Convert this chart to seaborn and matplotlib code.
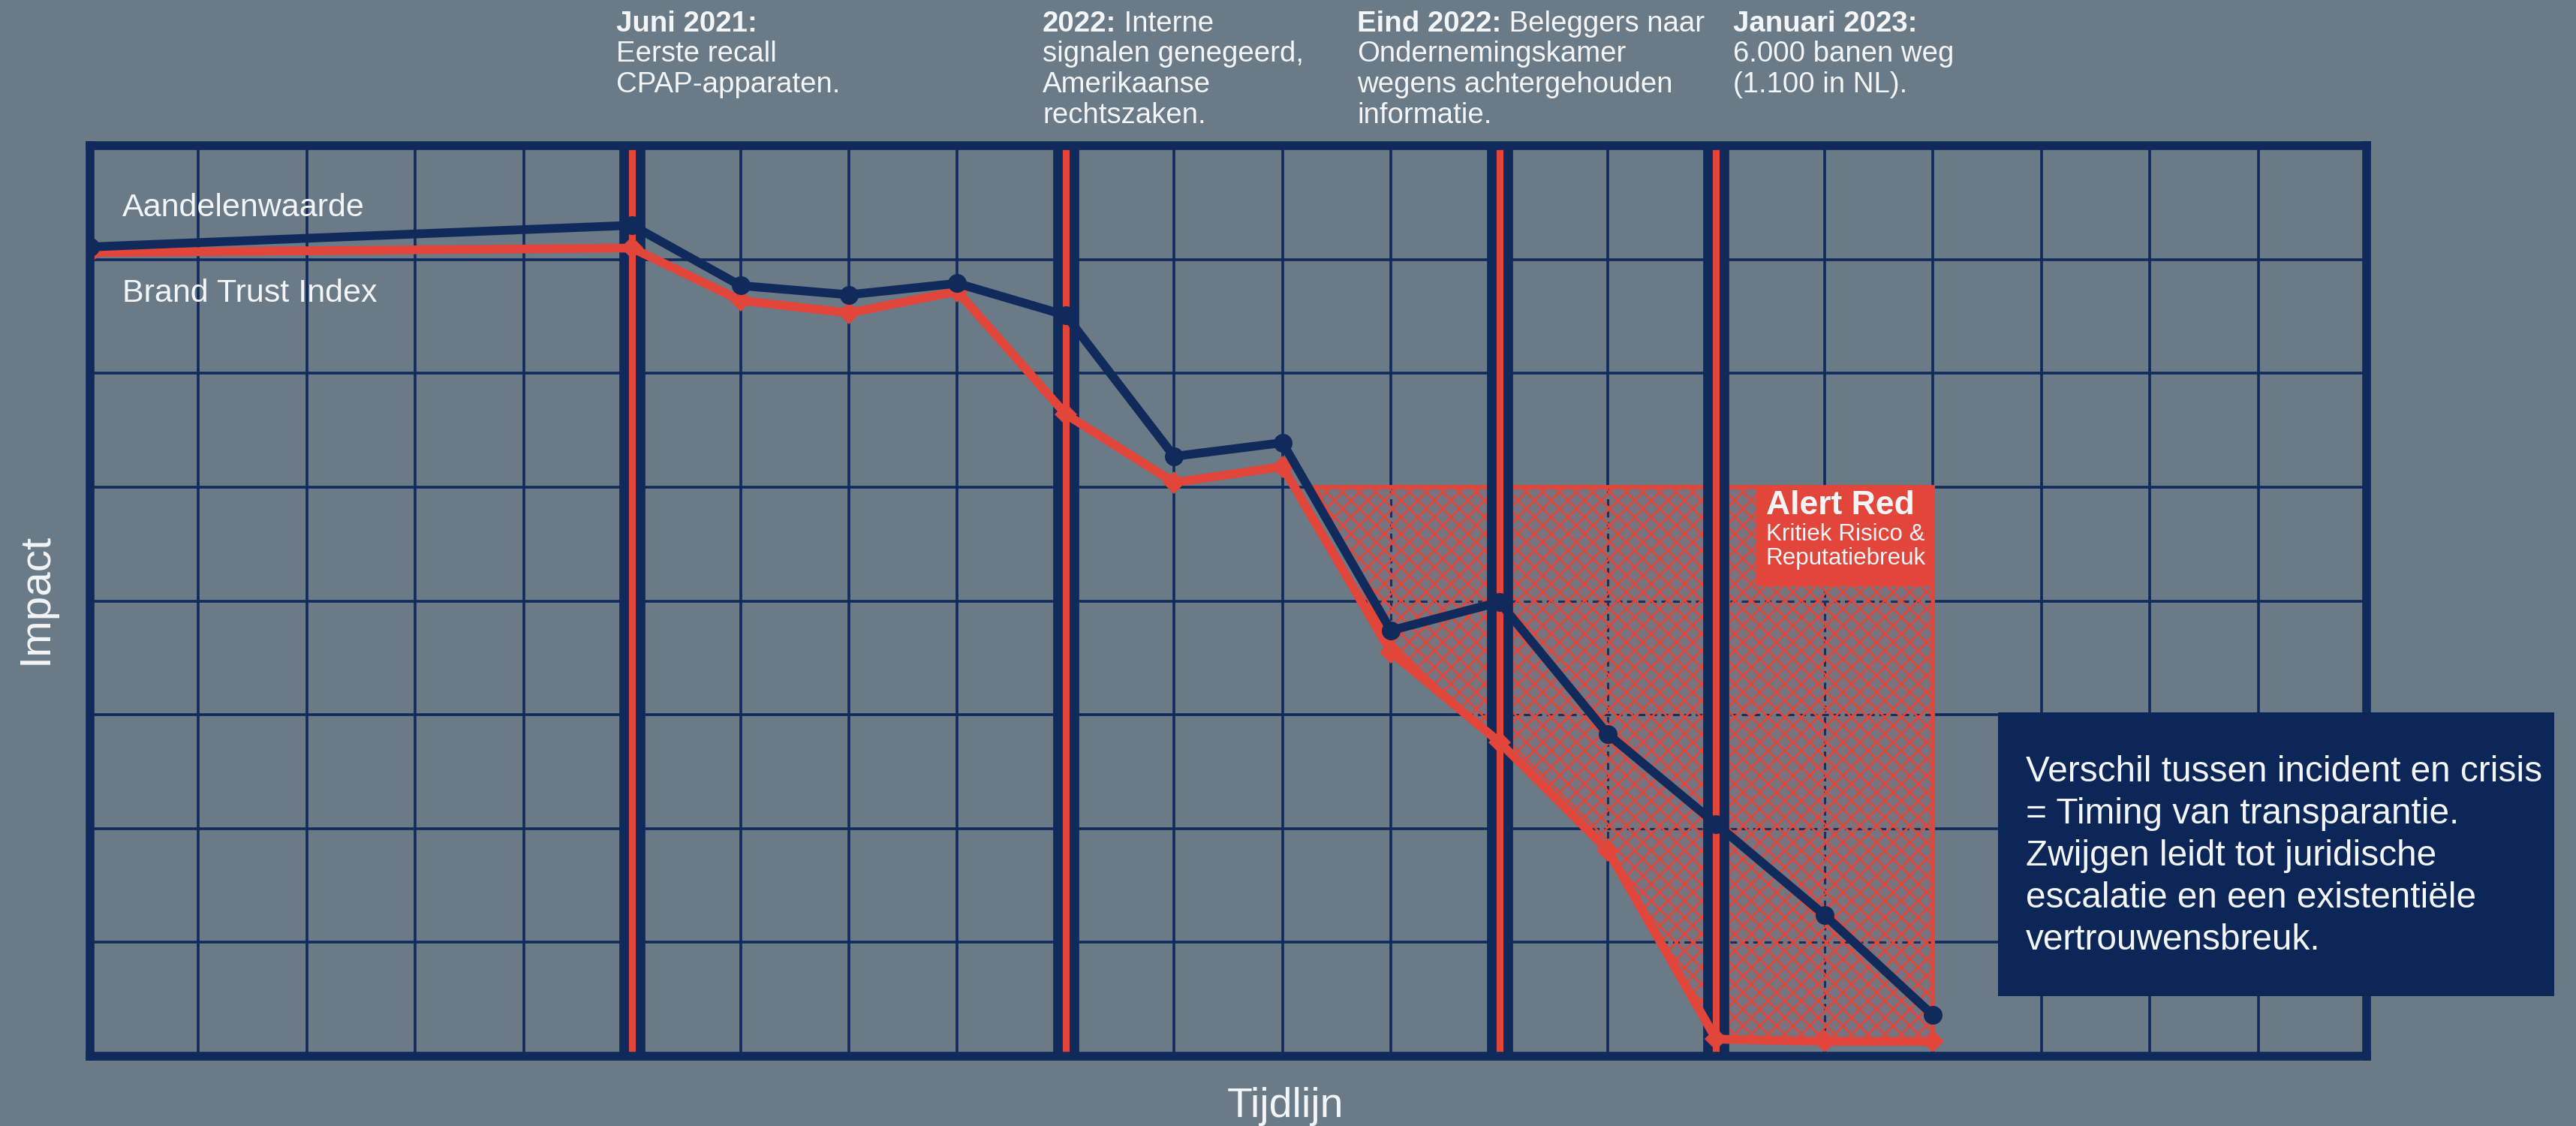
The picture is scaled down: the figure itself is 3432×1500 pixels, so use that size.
import matplotlib
matplotlib.use("Agg")
import matplotlib.pyplot as plt
import seaborn as sns
import pandas as pd
from matplotlib.patches import Rectangle, Polygon

# ---------------- data ----------------
x_pos = [0, 5, 6, 7, 8, 9, 10, 11, 12, 13, 14, 15, 16, 17]
aandelenwaarde = [7.11, 7.30, 6.77, 6.69, 6.79, 6.51, 5.27, 5.39, 3.74, 3.99, 2.83, 2.04, 1.24, 0.36]
brand_trust = [7.06, 7.10, 6.64, 6.53, 6.72, 5.64, 5.04, 5.18, 3.55, 2.76, 1.81, 0.15, 0.13, 0.13]

event_x = [5, 9, 13, 15]
event_bold = ["Juni 2021:", "2022:", "Eind 2022:", "Januari 2023:"]
event_rest = ["", " Interne", " Beleggers naar", ""]
event_body = [
    ["Eerste recall", "CPAP-apparaten."],
    ["signalen genegeerd,", "Amerikaanse", "rechtszaken."],
    ["Ondernemingskamer", "wegens achtergehouden", "informatie."],
    ["6.000 banen weg", "(1.100 in NL)."],
]

zone_x = [11.3, 12, 13, 14, 15, 16, 17]
zone_low = [5.0, 3.6, 2.76, 1.81, 0.15, 0.13, 0.13]
zone_top = 5.0

alert_title = "Alert Red"
alert_sub = ["Kritiek Risico &", "Reputatiebreuk"]
callout_lines = [
    "Verschil tussen incident en crisis",
    "= Timing van transparantie.",
    "Zwijgen leidt tot juridische",
    "escalatie en een existentiële",
    "vertrouwensbreuk.",
]

# ---------------- style ----------------
BG = "#6b7a87"
NAVY = "#112a5c"
RED = "#e2463b"
BOXNAVY = "#0c2657"
WHITE = "#f3f5f7"

sns.set_theme(style="white")
plt.rcParams["font.family"] = ["Liberation Sans", "DejaVu Sans"]
plt.rcParams["hatch.linewidth"] = 1.0

W, H = 3432, 1500
DPI = 200
fig = plt.figure(figsize=(W / DPI, H / DPI), dpi=DPI, facecolor=BG)
ax = fig.add_axes([120 / W, (H - 1407) / H, (3153 - 120) / W, (1407 - 194) / H])
ax.set_facecolor(BG)
ax.set_xlim(0, 21)
ax.set_ylim(0, 8)
ax.set_xticks(range(0, 22))
ax.set_yticks(range(0, 9))
ax.tick_params(length=0, labelbottom=False, labelleft=False)
ax.set_axisbelow(True)
ax.grid(True, color=NAVY, lw=1.3)
for s in ax.spines.values():
    s.set_visible(True)
    s.set_color(NAVY)
    s.set_linewidth(4.2)
    s.set_zorder(6)

# ---------------- alert zone ----------------
verts = [(zone_x[0], zone_top), (zone_x[-1], zone_top)] + list(zip(zone_x[::-1], zone_low[::-1]))
cover = Polygon(verts, closed=True, facecolor=BG, edgecolor="none", zorder=1.0)
ax.add_patch(cover)
for gx in range(12, 17):
    ln, = ax.plot([gx, gx], [0, 8], ls=(0, (3, 2)), color=NAVY, lw=1.1, zorder=1.1)
    ln.set_clip_path(cover)
for gy in range(1, 5):
    ln, = ax.plot([0, 21], [gy, gy], ls=(0, (3, 2)), color=NAVY, lw=1.1, zorder=1.1)
    ln.set_clip_path(cover)
hatch = Polygon(verts, closed=True, facecolor=(0.89, 0.27, 0.23, 0.10), edgecolor=RED,
                hatch="xxx", lw=2.0, zorder=1.5)
ax.add_patch(hatch)

# ---------------- event lines ----------------
for ex in event_x:
    ax.axvline(ex, color=NAVY, lw=12.5, zorder=3)
    ax.axvline(ex, color=RED, lw=3.3, zorder=3.1)

# alert label box
ax.add_patch(Rectangle((15.37, 4.13), 17 - 15.37, 5.01 - 4.13, facecolor=RED,
                       edgecolor="none", zorder=3.5))
ax.text(15.46, 4.76, alert_title, color=WHITE, fontsize=16, fontweight="bold",
        va="baseline", ha="left", zorder=4)
ax.text(15.46, 4.53, alert_sub[0], color=WHITE, fontsize=11.3, va="baseline", ha="left", zorder=4)
ax.text(15.46, 4.32, alert_sub[1], color=WHITE, fontsize=11.3, va="baseline", ha="left", zorder=4)

# ---------------- series ----------------
df = pd.DataFrame({"x": x_pos, "Aandelenwaarde": aandelenwaarde, "Brand Trust Index": brand_trust})
sns.lineplot(data=df, x="x", y="Brand Trust Index", ax=ax, color=RED, lw=4.2,
             marker="D", markersize=7.5, markeredgewidth=0, zorder=5, sort=False)
sns.lineplot(data=df, x="x", y="Aandelenwaarde", ax=ax, color=NAVY, lw=4.2,
             marker="o", markersize=9, markeredgewidth=0, zorder=5.2, sort=False)
ax.set_xlabel("")
ax.set_ylabel("")

ax.text(0.3, 7.38, "Aandelenwaarde", color=WHITE, fontsize=15.5, va="baseline", zorder=6)
ax.text(0.3, 6.63, "Brand Trust Index", color=WHITE, fontsize=15.5, va="baseline", zorder=6)

# ---------------- axis titles ----------------
fig.text(48 / W, 1 - 797 / H, "Impact", rotation=90, color=WHITE, fontsize=21,
         ha="center", va="center")
fig.text(1712 / W, 1 - 1488 / H, "Tijdlijn", color=WHITE, fontsize=20,
         ha="center", va="baseline")

# ---------------- event headers ----------------
renderer = fig.canvas.get_renderer()
header_x_px = [821, 1389, 1808, 2309]
base0, step = 42, 40.5
for hx, b, r, body in zip(header_x_px, event_bold, event_rest, event_body):
    xf = hx / W
    y0 = 1 - base0 / H
    t = fig.text(xf, y0, b, color=WHITE, fontsize=13.8, fontweight="bold", va="baseline")
    if r:
        wpx = t.get_window_extent(renderer=renderer).width
        fig.text(xf + wpx / W, y0, r, color=WHITE, fontsize=13.8, va="baseline")
    for i, line in enumerate(body):
        fig.text(xf, 1 - (base0 + step * (i + 1)) / H, line, color=WHITE, fontsize=13.8,
                 va="baseline")

# ---------------- callout box ----------------
fig.patches.append(Rectangle((2662 / W, (H - 1327) / H), (3403 - 2662) / W, (1327 - 949) / H,
                             transform=fig.transFigure, facecolor=BOXNAVY, edgecolor="none",
                             zorder=10))
for i, line in enumerate(callout_lines):
    fig.text(2699 / W, 1 - (1041 + 56 * i) / H, line, color=WHITE, fontsize=17.2,
             va="baseline", ha="left", zorder=11)

fig.savefig("out.png", dpi=DPI, facecolor=BG)
